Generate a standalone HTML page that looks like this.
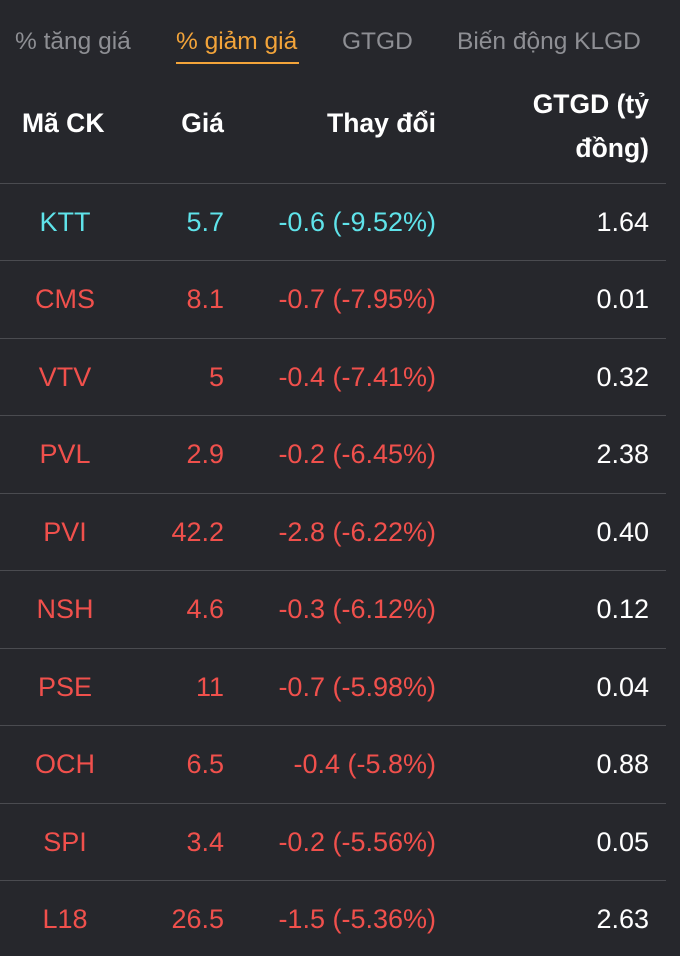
<!DOCTYPE html>
<html><head><meta charset="utf-8"><style>
body{margin:0;width:680px;height:956px;background:#26272c;font-family:"Liberation Sans",Arial,sans-serif;overflow:hidden;position:relative}
.t{position:absolute;top:27px;font-size:24.5px;color:#8e8f94;white-space:nowrap;line-height:30px}
.a{color:#f3a43a}
.ul{position:absolute;left:176px;top:62px;width:123px;height:2px;background:#f3a43a}
.h{position:absolute;color:#fff;font-weight:bold;font-size:26.5px;white-space:nowrap;line-height:30px}
.line{position:absolute;left:0;width:666px;height:1px;background:#4a4b50}
.c{position:absolute;font-size:27px;white-space:nowrap;line-height:30px}
.r{color:#f0504c}.g{color:#5fe3ea}.w{color:#fff}
</style></head><body>
<div class="t" style="left:15px">% tăng giá</div>
<div class="t a" style="left:176px">% giảm giá</div>
<div class="t" style="left:342px">GTGD</div>
<div class="t" style="left:457px">Biến động KLGD</div>
<div class="ul"></div>
<div class="h" style="left:22px;top:108px">Mã CK</div>
<div class="h" style="right:456px;top:108px">Giá</div>
<div class="h" style="right:244px;top:108px">Thay đổi</div>
<div class="h" style="right:31px;top:82px;text-align:right;line-height:44px">GTGD (tỷ<br>đồng)</div>
<div id="rows"></div>
<script>
var d=[["KTT","5.7","-0.6 (-9.52%)","1.64","g"],["CMS","8.1","-0.7 (-7.95%)","0.01","r"],["VTV","5","-0.4 (-7.41%)","0.32","r"],["PVL","2.9","-0.2 (-6.45%)","2.38","r"],["PVI","42.2","-2.8 (-6.22%)","0.40","r"],["NSH","4.6","-0.3 (-6.12%)","0.12","r"],["PSE","11","-0.7 (-5.98%)","0.04","r"],["OCH","6.5","-0.4 (-5.8%)","0.88","r"],["SPI","3.4","-0.2 (-5.56%)","0.05","r"],["L18","26.5","-1.5 (-5.36%)","2.63","r"]];
var h="";
for(var i=0;i<d.length;i++){var y=182.5+i*77.5;var ty=y+24;
h+='<div class="line" style="top:'+Math.round(y)+'px"></div>';
h+='<div class="c '+d[i][4]+'" style="left:0;width:130px;text-align:center;top:'+ty+'px">'+d[i][0]+'</div>';
h+='<div class="c '+d[i][4]+'" style="right:456px;top:'+ty+'px">'+d[i][1]+'</div>';
h+='<div class="c '+d[i][4]+'" style="right:244px;top:'+ty+'px">'+d[i][2]+'</div>';
h+='<div class="c w" style="right:31px;top:'+ty+'px">'+d[i][3]+'</div>';}
document.getElementById("rows").innerHTML=h;
</script>
</body></html>
